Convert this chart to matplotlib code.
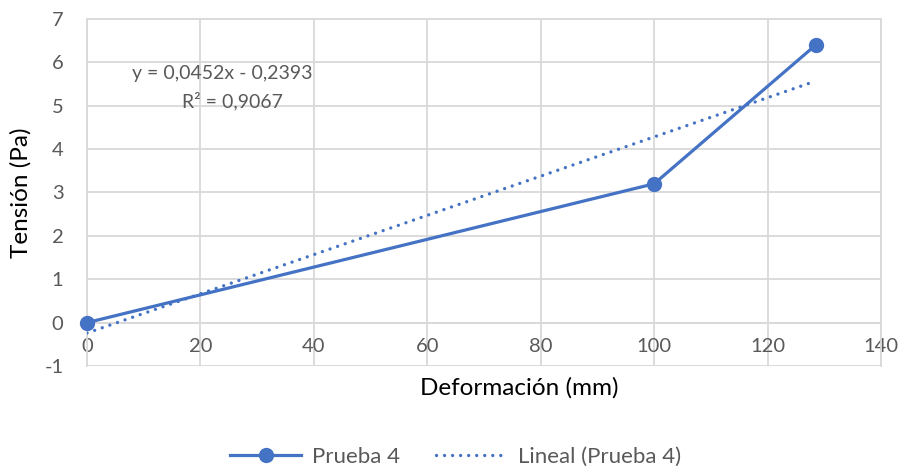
import numpy as np
import matplotlib.pyplot as plt
from matplotlib.lines import Line2D

# Data
deformacion = [0, 100, 128.5]
tension = [0.0, 3.2, 6.4]
trend_slope = 0.0452
trend_intercept = -0.2393
eq_text = 'y = 0,0452x - 0,2393'
r2_text = 'R² = 0,9067'
x_ticks = [0, 20, 40, 60, 80, 100, 120, 140]
y_ticks = [-1, 0, 1, 2, 3, 4, 5, 6, 7]

blue = '#4472C4'
grey_txt = '#595959'
grid_col = '#D9D9D9'
dotted = (0, (0.01, 2.4))

plt.rcParams['font.family'] = ['Lato', 'DejaVu Sans']
plt.rcParams['axes.unicode_minus'] = False

fig = plt.figure(figsize=(9.02, 4.73), dpi=100)
ax = fig.add_axes([0.0965, 0.2262, 0.8802, 0.7338])

# Trendline over the data range
xt = np.array([deformacion[0], deformacion[-1]])
yt = trend_slope * xt + trend_intercept
ax.plot(xt, yt, color=blue, lw=2.4, linestyle=dotted,
        dash_capstyle='round', zorder=3)

ax.plot(deformacion, tension, color=blue, lw=2.3, marker='o', markersize=10,
        zorder=4, clip_on=False)

ax.set_xlim(0, 140)
ax.set_ylim(-1, 7)
ax.set_xticks(x_ticks)
ax.set_yticks(y_ticks)
ax.grid(True, color=grid_col, lw=1.3)
ax.set_axisbelow(True)

for s in ['top', 'right', 'left']:
    ax.spines[s].set_color(grid_col)
    ax.spines[s].set_linewidth(1.3)
ax.spines['bottom'].set_position(('data', 0))
ax.spines['bottom'].set_color(grid_col)
ax.spines['bottom'].set_linewidth(1.3)
# frame line at y = -1
ax.axhline(-1, color=grid_col, lw=1.3, zorder=0)

ax.tick_params(axis='both', length=0, labelsize=14.5, labelcolor=grey_txt)
ax.tick_params(axis='x', pad=11)
ax.tick_params(axis='y', pad=17)

ax.set_xlabel('Deformación (mm)', fontsize=17.5, color='black', va='center')
ax.set_ylabel('Tensión (Pa)', fontsize=17.5, color='black', va='center')
ax.xaxis.set_label_coords(0.544, -0.063)
ax.yaxis.set_label_coords(-0.083, 0.5)

ax.text(23.8, 5.75, eq_text, fontsize=14, color=grey_txt, ha='center', va='center')
ax.text(25.7, 5.1, r2_text, fontsize=14, color=grey_txt, ha='center', va='center')

handles = [
    Line2D([], [], color=blue, lw=2.3, marker='o', markersize=10),
    Line2D([], [], color=blue, lw=2.4, linestyle=dotted, dash_capstyle='round'),
]
fig.legend(handles, ['Prueba 4', 'Lineal (Prueba 4)'], loc='center',
           bbox_to_anchor=(0.505, 0.034), ncol=2, frameon=False,
           fontsize=16, labelcolor=grey_txt, handlelength=3.2,
           columnspacing=1.6, handletextpad=0.5)

fig.savefig('out.png', dpi=100)
